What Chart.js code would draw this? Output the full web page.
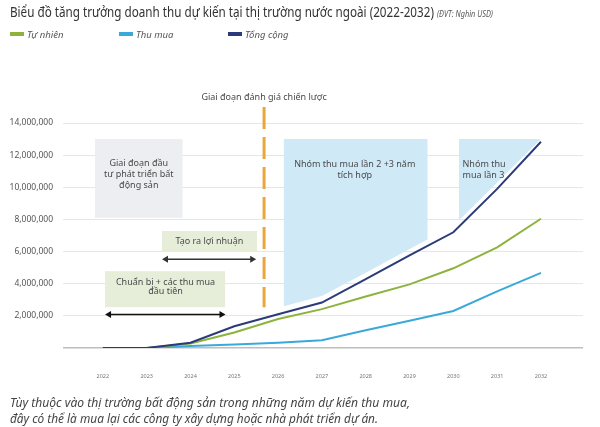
<!DOCTYPE html>
<html>
<head>
<meta charset="utf-8">
<script src="https://cdn.jsdelivr.net/npm/chart.js@4.4.0/dist/chart.umd.min.js"></script>
<style>
  body { margin: 0; background: #fff; font-family: "Noto Sans", sans-serif; }
  #wrap { position: relative; width: 600px; height: 427px; overflow: hidden; }
  canvas { position: absolute; left: 0; top: 0; }
  .txt { position: absolute; white-space: nowrap; transform-origin: 0 0; }
  #title { left: 10px; top: 3px; font-size: 13.5px; color: #333; }
  #title span { font-size: 8.5px; font-style: italic; color: #555; }
  #legend { left: 0; top: 28px; width: 600px; height: 14px; }
  .lg { position: absolute; top: 0; font-size: 9.5px; font-style: italic; color: #555; }
  .lg i { display: inline-block; width: 14px; height: 4px; vertical-align: middle; margin-right: 3px; margin-top: -2px; }
  .foot { left: 10px; font-size: 12.5px; font-style: italic; color: #444; }
</style>
</head>
<body>
<div id="wrap">
  <canvas id="c" width="600" height="427"></canvas>
  <div id="title" class="txt" data-w="483">Biểu đồ tăng trưởng doanh thu dự kiến tại thị trường nước ngoài (2022-2032) <span>(ĐVT: Nghìn USD)</span></div>
  <div id="legend" class="txt"></div>
  <div class="txt foot" style="top:394px" data-w="400">Tùy thuộc vào thị trường bất động sản trong những năm dự kiến thu mua,</div>
  <div class="txt foot" style="top:410px" data-w="368">đây có thể là mua lại các công ty xây dựng hoặc nhà phát triển dự án.</div>
</div>
<script>
// data (values in thousand USD as on the original axis)
const years = [2022, 2023, 2024, 2025, 2026, 2027, 2028, 2029, 2030, 2031, 2032];
const organic = [0, 0, 280000, 960000, 1800000, 2420000, 3200000, 3960000, 4960000, 6260000, 8040000];
const acquired = [0, 0, 120000, 220000, 320000, 480000, 1100000, 1690000, 2300000, 3520000, 4670000];
const total = [0, 0, 330000, 1350000, 2100000, 2830000, 4290000, 5760000, 7200000, 9900000, 12830000];
const seriesNames = ["Tự nhiên", "Thu mua", "Tổng cộng"];
const yTicks = [0, 2000000, 4000000, 6000000, 8000000, 10000000, 12000000, 14000000];

const colors = ["#8db33c", "#3aa9da", "#2b3b7a"];

// legend (html)
const legendX = [10, 119, 228];
const legend = document.getElementById("legend");
seriesNames.forEach((n, i) => {
  const d = document.createElement("div");
  d.className = "lg";
  d.style.left = legendX[i] + "px";
  d.innerHTML = '<i style="background:' + colors[i] + '"></i>' + n;
  legend.appendChild(d);
});

// squeeze text to the width of the original (condensed font there)
document.querySelectorAll("[data-w]").forEach(el => {
  const w = el.getBoundingClientRect().width;
  el.style.transform = "scaleX(" + (+el.dataset.w / w) + ")";
});

const pts = arr => years.map((y, i) => ({ x: y, y: arr[i] }));

function interp(arr, x) {
  if (x <= years[0]) return arr[0];
  for (let i = 1; i < years.length; i++) {
    if (x <= years[i]) {
      const t = (x - years[i - 1]) / (years[i] - years[i - 1]);
      return arr[i - 1] + t * (arr[i] - arr[i - 1]);
    }
  }
  return arr[arr.length - 1];
}

// annotation layout, in axis units
const boxes = [
  { x0: 2021.82, x1: 2023.82, y0: 8100000, y1: 13000000, color: "#eceef1" },
  { x0: 2023.35, x1: 2025.52, y0: 5970000, y1: 7280000, color: "#e6eed9" },
  { x0: 2022.05, x1: 2024.79, y0: 2540000, y1: 4780000, color: "#e6eed9" }
];
const bands = [
  { x0: 2026.13, x1: 2029.41 },
  { x0: 2030.13, x1: 2032 }
];
const bandTop = 13000000, bandGap = 400000;
const arrows = [
  { x0: 2023.35, x1: 2025.5, y: 5530000, color: "#333" },
  { x0: 2022.05, x1: 2024.8, y: 2080000, color: "#111" }
];
const labels = [
  { x: 2022.82, y: 11500000, t: "Giai đoạn đầu" },
  { x: 2022.82, y: 10800000, t: "tư phát triển bất" },
  { x: 2022.82, y: 10100000, t: "động sản" },
  { x: 2024.43, y: 6610000, t: "Tạo ra lợi nhuận" },
  { x: 2023.43, y: 4060000, t: "Chuẩn bị + các thu mua" },
  { x: 2023.43, y: 3500000, t: "đầu tiên" },
  { x: 2027.75, y: 11400000, t: "Nhóm thu mua lần 2 +3 năm" },
  { x: 2027.75, y: 10760000, t: "tích hợp" },
  { x: 2030.21, y: 11400000, t: "Nhóm thu", left: true },
  { x: 2030.21, y: 10760000, t: "mua lần 3", left: true },
  { x: 2025.68, y: 15600000, t: "Giai đoạn đánh giá chiến lược" }
];
const divider = { x: 2025.68, y0: 15000000, y1: 2540000 };

const annotations = {
  id: "annotations",
  beforeDatasetsDraw(chart) {
    const { ctx, scales: { x, y } } = chart;
    ctx.save();
    boxes.forEach(b => {
      ctx.fillStyle = b.color;
      const px0 = x.getPixelForValue(b.x0), px1 = x.getPixelForValue(b.x1);
      const py0 = y.getPixelForValue(b.y1), py1 = y.getPixelForValue(b.y0);
      ctx.fillRect(px0, py0, px1 - px0, py1 - py0);
    });
    ctx.fillStyle = "#cfe9f7";
    bands.forEach(b => {
      const xs = [b.x0, ...years.filter(v => v > b.x0 && v < b.x1), b.x1];
      ctx.beginPath();
      ctx.moveTo(x.getPixelForValue(b.x0), y.getPixelForValue(bandTop));
      ctx.lineTo(x.getPixelForValue(b.x1), y.getPixelForValue(bandTop));
      for (let i = xs.length - 1; i >= 0; i--) {
        const v = Math.min(bandTop, interp(total, xs[i]) + bandGap);
        ctx.lineTo(x.getPixelForValue(xs[i]), y.getPixelForValue(v));
      }
      ctx.closePath();
      ctx.fill();
    });
    ctx.restore();
  },
  afterDatasetsDraw(chart) {
    const { ctx, scales: { x, y } } = chart;
    ctx.save();
    // dashed divider
    ctx.strokeStyle = "#e9a73b";
    ctx.lineWidth = 3;
    ctx.setLineDash([22, 8]);
    ctx.beginPath();
    ctx.moveTo(x.getPixelForValue(divider.x), y.getPixelForValue(divider.y0));
    ctx.lineTo(x.getPixelForValue(divider.x), y.getPixelForValue(divider.y1));
    ctx.stroke();
    ctx.setLineDash([]);
    // arrows
    arrows.forEach(a => {
      const xa = x.getPixelForValue(a.x0), xb = x.getPixelForValue(a.x1), py = y.getPixelForValue(a.y);
      ctx.strokeStyle = a.color;
      ctx.fillStyle = a.color;
      ctx.lineWidth = 1.5;
      ctx.beginPath();
      ctx.moveTo(xa + 4, py);
      ctx.lineTo(xb - 4, py);
      ctx.stroke();
      [[xa, 1], [xb, -1]].forEach(([px, d]) => {
        ctx.beginPath();
        ctx.moveTo(px, py);
        ctx.lineTo(px + d * 6, py - 3.5);
        ctx.lineTo(px + d * 6, py + 3.5);
        ctx.closePath();
        ctx.fill();
      });
    });
    // texts
    ctx.fillStyle = "#4a4a4a";
    ctx.font = "9px 'Noto Sans'";
    ctx.textBaseline = "middle";
    labels.forEach(l => {
      ctx.textAlign = l.left ? "left" : "center";
      ctx.fillText(l.t, x.getPixelForValue(l.x), y.getPixelForValue(l.y));
    });
    ctx.restore();
  }
};

new Chart(document.getElementById("c"), {
  type: "line",
  data: {
    datasets: [
      { label: seriesNames[0], data: pts(organic), borderColor: colors[0], order: 1 },
      { label: seriesNames[1], data: pts(acquired), borderColor: colors[1], order: 2 },
      { label: seriesNames[2], data: pts(total), borderColor: colors[2], order: 0 }
    ]
  },
  options: {
    responsive: false,
    animation: false,
    devicePixelRatio: 1,
    layout: { padding: { top: 123, right: 17, left: 0, bottom: 0 } },
    elements: {
      line: { borderWidth: 2, tension: 0 },
      point: { radius: 0 }
    },
    plugins: { legend: { display: false }, tooltip: { enabled: false } },
    scales: {
      x: {
        type: "linear",
        min: 2021.09,
        max: 2032.96,
        afterBuildTicks: s => { s.ticks = years.map(v => ({ value: v })); },
        afterFit: s => { s.height = 79; },
        grid: { display: false },
        border: { display: false },
        ticks: {
          padding: 17,
          color: "#777",
          font: { family: "Noto Sans", size: 5.5 },
          callback: v => String(v)
        }
      },
      y: {
        min: 0,
        max: 14000000,
        afterBuildTicks: s => { s.ticks = yTicks.map(v => ({ value: v })); },
        afterFit: s => { s.width = 63; },
        border: { display: false },
        grid: {
          drawTicks: false,
          color: c => c.tick && c.tick.value === 0 ? "#bdbdbd" : "#e6e6e6",
          lineWidth: c => c.tick && c.tick.value === 0 ? 1.5 : 1
        },
        ticks: {
          padding: 10,
          color: "#555",
          font: { family: "Noto Sans", size: 8.5 },
          callback: v => v === 0 ? "" : v.toLocaleString("en-US")
        }
      }
    }
  },
  plugins: [annotations]
});
</script>
</body>
</html>
